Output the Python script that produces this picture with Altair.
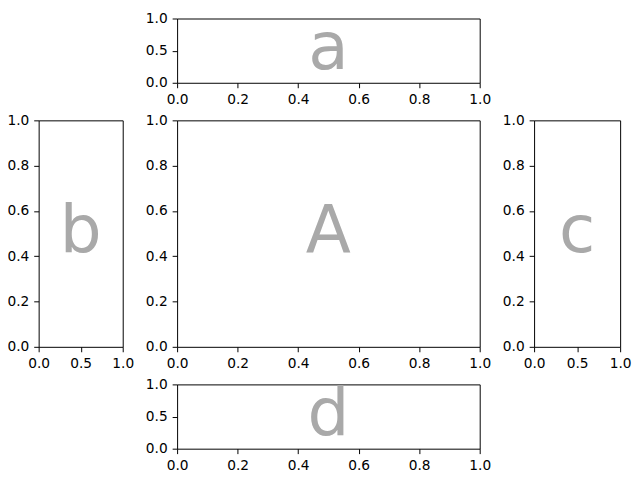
import altair as alt
import pandas as pd

# panel labels in grid order (row by row, None = empty cell)
grid_labels = [None, "a", None, "b", "A", "c", None, "d", None]
panel_width = {"a": 306, "b": 85, "A": 306, "c": 87, "d": 306}
panel_height = {"a": 65, "b": 229, "A": 229, "c": 229, "d": 65}
fine_ticks = [0.0, 0.2, 0.4, 0.6, 0.8, 1.0]
coarse_ticks = [0.0, 0.5, 1.0]
x_ticks = {"a": fine_ticks, "b": coarse_ticks, "A": fine_ticks, "c": coarse_ticks, "d": fine_ticks}
y_ticks = {"a": coarse_ticks, "b": fine_ticks, "A": fine_ticks, "c": fine_ticks, "d": coarse_ticks}
text_x = [0.5]
text_y = [0.5]

FONT = "DejaVu Sans"


def axis(values):
    return alt.Axis(
        values=values, grid=False, domain=False, ticks=True, tickSize=5,
        tickColor="black", tickWidth=1, labelColor="black", labelFont=FONT,
        labelFontSize=13.9, labelPadding=5, format=".1f", title=None,
        labelFlush=False, labelOverlap=False,
    )


def panel(name):
    df = pd.DataFrame({"x": text_x, "y": text_y, "label": [name]})
    return (
        alt.Chart(df)
        .mark_text(font=FONT, fontSize=66.7, color="#a9a9a9", baseline="alphabetic",
                   align="center", dy=18.5)
        .encode(
            x=alt.X("x:Q", scale=alt.Scale(domain=[0, 1], nice=False, zero=False), axis=axis(x_ticks[name])),
            y=alt.Y("y:Q", scale=alt.Scale(domain=[0, 1], nice=False, zero=False), axis=axis(y_ticks[name])),
            text="label:N",
        )
        .properties(width=panel_width[name], height=panel_height[name],
                    view=alt.ViewBackground(stroke="black", strokeWidth=1))
    )


def spacer():
    df = pd.DataFrame({"x": [0.5], "y": [0.5]})
    return (
        alt.Chart(df)
        .mark_point(opacity=0)
        .encode(x=alt.X("x:Q", axis=None), y=alt.Y("y:Q", axis=None))
        .properties(width=10, height=10, view=alt.ViewBackground(strokeWidth=0, stroke="transparent"))
    )


cells = [panel(n) if n else spacer() for n in grid_labels]

chart = alt.concat(
    *cells, columns=3,
    spacing=alt.RowColnumber(row=38, column=55),
    align="each", bounds="flush",
).properties(padding={"left": -2, "top": 0, "right": 0, "bottom": 0}).configure_view(strokeWidth=0)

chart.save("out.html", embed_options={"renderer": "svg", "actions": False})
